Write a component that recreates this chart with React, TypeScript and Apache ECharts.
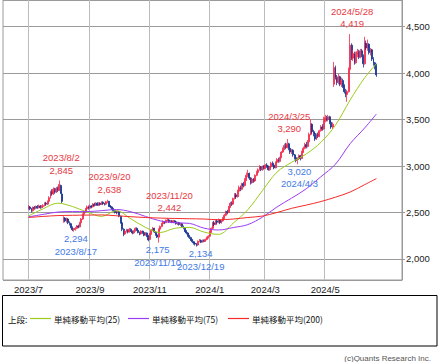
import React, { useEffect, useRef } from 'react';
import * as echarts from 'echarts';

// ---------- axis / calendar ----------
const axisStart = [2023, 6, 8];
const axisEnd = [2024, 7, 17];
const holidays = ['2023/7/17', '2023/8/11', '2023/9/18', '2023/10/9', '2023/11/3', '2023/11/23',
  '2024/1/1', '2024/1/2', '2024/1/3', '2024/1/8', '2024/2/12', '2024/2/23', '2024/3/20',
  '2024/4/29', '2024/5/3', '2024/5/6', '2024/7/15'];
const firstDataDay = '2023/7/3';
const monthLabels = ['2023/7', '2023/9', '2023/11', '2024/1', '2024/3', '2024/5'];

// ---------- daily candles [open, close, low, high] ----------
const jul2023 = [
  [2550, 2560, 2530, 2580], [2560, 2540, 2525, 2570], [2540, 2520, 2500, 2550], [2520, 2555, 2510, 2565], [2555, 2545, 2530, 2570],
  [2545, 2565, 2535, 2575], [2565, 2550, 2540, 2580], [2550, 2570, 2545, 2585], [2570, 2555, 2540, 2580], [2555, 2565, 2545, 2580],
  [2565, 2575, 2550, 2590], [2575, 2600, 2565, 2610], [2600, 2590, 2575, 2615], [2590, 2620, 2580, 2630],
  [2620, 2660, 2610, 2675], [2660, 2720, 2650, 2735], [2720, 2700, 2680, 2750], [2700, 2750, 2690, 2770], [2750, 2720, 2700, 2765],
  [2720, 2760, 2710, 2775],
];
const aug2023 = [
  [2760, 2740, 2720, 2780], [2740, 2800, 2730, 2845], [2790, 2710, 2700, 2800], [2700, 2620, 2600, 2715],
  [2420, 2440, 2390, 2460], [2440, 2410, 2395, 2450], [2410, 2430, 2390, 2445], [2430, 2390, 2375, 2440],
  [2390, 2380, 2360, 2405], [2380, 2340, 2330, 2390], [2340, 2315, 2300, 2350], [2315, 2320, 2294, 2335], [2320, 2330, 2305, 2345],
  [2330, 2355, 2320, 2365], [2355, 2345, 2330, 2370], [2345, 2390, 2340, 2400], [2390, 2430, 2380, 2440], [2430, 2480, 2420, 2490],
  [2480, 2510, 2470, 2520], [2510, 2540, 2500, 2550], [2540, 2560, 2525, 2575], [2560, 2545, 2530, 2575],
];
const sep2023 = [
  [2545, 2570, 2540, 2585],
  [2570, 2560, 2545, 2580], [2560, 2590, 2555, 2600], [2590, 2575, 2565, 2605], [2575, 2600, 2570, 2610], [2600, 2580, 2570, 2610],
  [2580, 2600, 2570, 2610], [2600, 2585, 2575, 2610], [2585, 2610, 2580, 2620], [2610, 2595, 2585, 2620], [2595, 2590, 2575, 2605],
  [2590, 2615, 2585, 2625], [2610, 2620, 2600, 2638], [2620, 2570, 2560, 2625], [2570, 2560, 2545, 2580],
  [2560, 2540, 2530, 2570], [2540, 2520, 2505, 2550], [2520, 2505, 2490, 2530], [2505, 2500, 2480, 2515], [2500, 2510, 2490, 2520],
];
const oct2023 = [
  [2510, 2460, 2450, 2515], [2460, 2390, 2380, 2465], [2390, 2320, 2300, 2395], [2320, 2270, 2245, 2330], [2270, 2300, 2260, 2310],
  [2300, 2310, 2285, 2325], [2310, 2290, 2275, 2320], [2290, 2320, 2285, 2335], [2320, 2300, 2290, 2330],
  [2300, 2280, 2265, 2305], [2280, 2300, 2270, 2310], [2300, 2330, 2295, 2340], [2330, 2310, 2300, 2340], [2310, 2285, 2275, 2315],
  [2285, 2270, 2255, 2295], [2270, 2300, 2265, 2310], [2300, 2285, 2270, 2305], [2285, 2255, 2245, 2290], [2255, 2280, 2250, 2290],
  [2280, 2250, 2235, 2285], [2250, 2205, 2190, 2260],
];
const nov2023 = [
  [2210, 2270, 2205, 2280], [2270, 2310, 2260, 2320],
  [2310, 2330, 2300, 2345], [2330, 2290, 2280, 2335], [2290, 2260, 2250, 2300], [2260, 2235, 2225, 2270], [2235, 2320, 2175, 2330],
  [2320, 2350, 2310, 2360], [2350, 2380, 2340, 2390], [2380, 2400, 2370, 2415], [2400, 2390, 2375, 2410], [2390, 2410, 2385, 2425],
  [2410, 2420, 2400, 2442], [2420, 2400, 2390, 2430], [2400, 2410, 2390, 2420], [2410, 2395, 2385, 2420],
  [2395, 2410, 2385, 2420], [2410, 2400, 2390, 2420], [2400, 2380, 2370, 2410], [2380, 2390, 2365, 2400],
];
const dec2023 = [
  [2390, 2370, 2360, 2400],
  [2370, 2380, 2355, 2390], [2380, 2350, 2340, 2385], [2350, 2330, 2320, 2360], [2330, 2300, 2290, 2340], [2300, 2280, 2265, 2310],
  [2280, 2250, 2240, 2290], [2250, 2230, 2215, 2260], [2230, 2205, 2195, 2240], [2205, 2185, 2170, 2215], [2185, 2170, 2155, 2195],
  [2170, 2160, 2145, 2180], [2160, 2150, 2134, 2170], [2150, 2190, 2145, 2200], [2190, 2200, 2180, 2215], [2200, 2180, 2170, 2210],
  [2180, 2200, 2175, 2210], [2200, 2190, 2180, 2210], [2190, 2210, 2185, 2220], [2210, 2230, 2200, 2240], [2230, 2245, 2220, 2255],
];
const jan2024 = [
  [2245, 2290, 2235, 2300], [2290, 2330, 2280, 2340],
  [2330, 2390, 2320, 2400], [2390, 2370, 2355, 2410], [2370, 2410, 2365, 2420], [2410, 2395, 2380, 2430],
  [2395, 2420, 2385, 2435], [2420, 2390, 2375, 2430], [2390, 2410, 2380, 2420], [2410, 2440, 2400, 2450], [2440, 2470, 2430, 2485],
  [2470, 2510, 2460, 2520], [2510, 2500, 2480, 2530], [2500, 2560, 2495, 2570], [2560, 2600, 2550, 2615], [2600, 2590, 2570, 2620],
  [2590, 2650, 2585, 2660], [2650, 2690, 2640, 2710], [2690, 2670, 2650, 2710],
];
const feb2024 = [
  [2670, 2730, 2660, 2745], [2730, 2770, 2720, 2790],
  [2770, 2750, 2730, 2790], [2750, 2810, 2740, 2820], [2810, 2790, 2770, 2830], [2790, 2850, 2780, 2870], [2850, 2900, 2840, 2930],
  [2900, 2920, 2880, 2960], [2920, 2870, 2850, 2930], [2870, 2820, 2800, 2880], [2820, 2860, 2810, 2875],
  [2860, 2840, 2820, 2870], [2840, 2900, 2830, 2910], [2900, 2930, 2890, 2950], [2930, 2960, 2920, 2975],
  [2960, 2990, 2950, 3010], [2990, 2960, 2945, 3000], [2960, 2995, 2950, 3005], [2995, 2975, 2960, 3010],
];
const mar2024 = [
  [2975, 3010, 2965, 3020],
  [3010, 2995, 2980, 3030], [2995, 2960, 2950, 3005], [2960, 2990, 2950, 3000], [2990, 3030, 2980, 3045], [3030, 3010, 2995, 3050],
  [3010, 2980, 2965, 3020], [2980, 3040, 2975, 3050], [3040, 3070, 3030, 3085], [3070, 3050, 3035, 3090], [3050, 3090, 3040, 3100],
  [3090, 3150, 3085, 3160], [3150, 3180, 3140, 3200], [3180, 3220, 3170, 3240], [3220, 3200, 3180, 3250],
  [3200, 3240, 3190, 3290], [3240, 3190, 3170, 3250], [3190, 3150, 3130, 3200], [3150, 3170, 3130, 3185], [3170, 3120, 3100, 3180],
];
const apr2024 = [
  [3120, 3090, 3070, 3130], [3090, 3060, 3040, 3100], [3060, 3080, 3020, 3095], [3080, 3110, 3065, 3125], [3110, 3080, 3060, 3120],
  [3080, 3150, 3075, 3165], [3150, 3190, 3140, 3210], [3190, 3230, 3180, 3250], [3230, 3210, 3190, 3260], [3210, 3260, 3200, 3280],
  [3260, 3340, 3250, 3360], [3340, 3450, 3330, 3500], [3450, 3370, 3350, 3460], [3370, 3350, 3320, 3390], [3350, 3290, 3270, 3360],
  [3290, 3340, 3280, 3350], [3340, 3320, 3300, 3360], [3320, 3380, 3310, 3390], [3380, 3420, 3370, 3440], [3420, 3400, 3380, 3450],
  [3400, 3490, 3390, 3530],
];
const may2024 = [
  [3490, 3520, 3470, 3550], [3520, 3500, 3480, 3540],
  [3500, 3530, 3480, 3550], [3530, 3470, 3450, 3540], [3470, 3420, 3400, 3490], [3420, 3450, 3400, 3470],
  [3880, 4060, 3850, 4120], [4060, 3950, 3930, 4080], [3950, 3900, 3870, 3980], [3900, 3960, 3880, 3990], [3960, 3880, 3860, 3970],
  [3880, 3920, 3850, 3950], [3920, 3860, 3840, 3940], [3860, 3800, 3780, 3880], [3800, 3770, 3740, 3830], [3770, 3800, 3690, 3820],
  [3800, 4040, 3790, 4060], [4040, 4300, 4030, 4419], [4300, 4160, 4140, 4320], [4160, 4210, 4130, 4250], [4210, 4110, 4090, 4230],
];
const jun2024 = [
  [4110, 4200, 4100, 4230], [4200, 4230, 4170, 4260], [4230, 4170, 4150, 4250], [4170, 4240, 4160, 4260], [4240, 4190, 4170, 4260],
  [4190, 4100, 4060, 4200], [4100, 4320, 4090, 4390], [4320, 4270, 4250, 4350], [4270, 4310, 4240, 4360], [4310, 4220, 4200, 4320],
  [4220, 4250, 4190, 4270], [4250, 4150, 4130, 4260], [4150, 4110, 4080, 4170], [4110, 4080, 4040, 4120], [4080, 3980, 3960, 4100],
];

// ---------- moving averages (read at sample dates) ----------
const maDates = ['2023/7/3', '2023/7/18', '2023/8/1', '2023/8/16', '2023/8/30', '2023/9/13', '2023/9/28', '2023/10/13',
  '2023/10/27', '2023/11/13', '2023/11/28', '2023/12/12', '2023/12/26', '2024/1/15', '2024/1/29', '2024/2/13', '2024/2/28',
  '2024/3/13', '2024/3/28', '2024/4/11', '2024/4/25', '2024/5/14', '2024/5/28', '2024/6/11', '2024/6/21'];
const ma25 = [2463, 2540, 2600, 2565, 2505, 2458, 2520, 2432, 2340, 2285, 2330, 2340, 2290, 2265, 2385, 2530, 2735, 2935, 3040, 3130, 3255, 3440, 3710, 3950, 4100];
const ma75 = [2453, 2480, 2505, 2510, 2510, 2520, 2532, 2508, 2458, 2410, 2390, 2383, 2332, 2312, 2338, 2370, 2450, 2560, 2655, 2755, 2885, 3020, 3240, 3410, 3560];
const ma200 = [2447, 2458, 2467, 2470, 2472, 2474, 2465, 2455, 2446, 2440, 2436, 2433, 2430, 2422, 2430, 2446, 2462, 2500, 2545, 2580, 2618, 2665, 2720, 2800, 2865];
const maNames = ['単純移動平均(25)', '単純移動平均(75)', '単純移動平均(200)'];
const maColors = ['#9ccc1c', '#9b3cf5', '#f52a2a'];

// ---------- annotations ----------
const highDates = ['2023/8/2', '2023/9/20', '2023/11/20', '2024/3/25', '2024/5/28'];
const highValues = [2845, 2638, 2442, 3290, 4419];
const lowDates = ['2023/8/17', '2023/11/10', '2023/12/19', '2024/4/3'];
const lowValues = [2294, 2175, 2134, 3020];

const RED = '#e8383f';
const BLUE = '#3f7be6';
const UP = '#f5284a';
const DOWN = '#13308f';
const NUM_FONT = "'Liberation Sans', Arial, sans-serif";
const CJK_FONT = "'Noto Sans CJK JP', 'Noto Sans', sans-serif";
const NUM_SIZE = 9.5;

const fmt = (v: number) => v.toLocaleString('en-US');
const key = (d: Date) => `${d.getFullYear()}/${d.getMonth() + 1}/${d.getDate()}`;

function buildCategories(): string[] {
  const hol = new Set(holidays);
  const out: string[] = [];
  const d = new Date(axisStart[0], axisStart[1] - 1, axisStart[2]);
  const end = new Date(axisEnd[0], axisEnd[1] - 1, axisEnd[2]);
  while (d <= end) {
    const wd = d.getDay();
    const k = key(d);
    if (wd !== 0 && wd !== 6 && !hol.has(k)) out.push(k);
    d.setDate(d.getDate() + 1);
  }
  return out;
}

export default function App() {
  const ref = useRef<HTMLDivElement>(null);
  useEffect(() => {
    if (!ref.current) return;
    const chart = echarts.init(ref.current, undefined, { renderer: 'svg' });
    const categories = buildCategories();
    const idxOf = new Map<string, number>();
    categories.forEach((c, i) => idxOf.set(c, i));
    const ym = (c: string) => c.split('/').slice(0, 2).join('/');

    const labelIdx = new Set<number>();
    categories.forEach((c, i) => {
      if (monthLabels.includes(ym(c)) && (i === 0 || ym(categories[i - 1]) !== ym(c))) labelIdx.add(i);
    });

    const all = [...jul2023, ...aug2023, ...sep2023, ...oct2023, ...nov2023, ...dec2023,
      ...jan2024, ...feb2024, ...mar2024, ...apr2024, ...may2024, ...jun2024];
    const start = idxOf.get(firstDataDay)!;
    const candleData = categories.map((_, i) => {
      const r = all[i - start];
      return r ? r : ['-', '-', '-', '-'];
    });

    const maSeries = [ma25, ma75, ma200].map((vals, k) => {
      const arr: (number | null)[] = categories.map(() => null);
      maDates.forEach((d, j) => { arr[idxOf.get(d)!] = vals[j]; });
      return {
        type: 'line', name: maNames[k], data: arr, connectNulls: true, showSymbol: false, symbol: 'none',
        smooth: 0.35, lineStyle: { color: maColors[k], width: 1 }, silent: true, z: 3,
      };
    });

    const lowOffsets: Record<string, number> = { '2023/11/10': -1, '2023/12/19': 4 };
    const markData: any[] = [];
    highDates.forEach((d, j) => markData.push({
      coord: [idxOf.get(d), highValues[j]],
      label: { position: 'top', distance: 4, offset: [2, 0], color: RED, formatter: `${d}\n${fmt(highValues[j])}` },
    }));
    lowDates.forEach((d, j) => markData.push({
      coord: [idxOf.get(d), lowValues[j]],
      label: { position: 'bottom', distance: 1, offset: [lowOffsets[d] ?? 2, 0], color: BLUE, formatter: `${fmt(lowValues[j])}\n${d}` },
    }));

    const legendY = 318.5;
    const legendX = [30, 128, 228];
    const graphics: any[] = [
      { type: 'rect', shape: { x: 2.5, y: 295.5, width: 434.5, height: 50.5 }, style: { fill: '#fff', stroke: '#000', lineWidth: 1 }, z: 0 },
      { type: 'text', x: 8, y: legendY, style: { text: '上段:', font: `8.5px ${CJK_FONT}`, fill: '#111', verticalAlign: 'middle', textVerticalAlign: 'middle' } },
      { type: 'text', x: 431, y: 358, style: { text: '(c)Quants Research Inc.', font: `8px ${NUM_FONT}`, fill: '#555', align: 'right', textAlign: 'right', verticalAlign: 'middle', textVerticalAlign: 'middle' } },
    ];
    legendX.forEach((x, k) => {
      graphics.push({ type: 'line', shape: { x1: x, y1: legendY, x2: x + 21, y2: legendY }, style: { stroke: maColors[k], lineWidth: 1.2 } });
      graphics.push({ type: 'text', x: x + 24, y: legendY, style: { text: maNames[k], font: `8.5px ${CJK_FONT}`, fill: '#111', verticalAlign: 'middle', textVerticalAlign: 'middle' } });
    });

    chart.setOption({
      animation: false,
      backgroundColor: '#fff',
      grid: { left: 3, right: 37, top: 0, bottom: 82, show: true, borderColor: '#9a9a9a', borderWidth: 1 },
      xAxis: {
        type: 'category', data: categories, boundaryGap: true,
        axisLine: { show: false }, axisTick: { show: false },
        axisLabel: {
          interval: (i: number) => labelIdx.has(i), formatter: (v: string) => ym(v),
          margin: 4, fontSize: NUM_SIZE, color: '#222', fontFamily: NUM_FONT,
        },
        splitLine: { show: true, interval: (i: number) => labelIdx.has(i), lineStyle: { color: '#bcbcbc', width: 1 } },
      },
      yAxis: {
        type: 'value', position: 'right', min: 1774, max: 4786, splitNumber: 6, minInterval: 500, maxInterval: 500,
        axisLine: { show: true, lineStyle: { color: '#9a9a9a' } },
        axisTick: { show: true, length: 3, lineStyle: { color: '#9a9a9a' } },
        axisLabel: { showMinLabel: false, showMaxLabel: false, margin: 4, fontSize: NUM_SIZE, color: '#222', fontFamily: NUM_FONT, formatter: (v: number) => fmt(v) },
        splitLine: { show: true, lineStyle: { color: '#9a9a9a', width: 1 } },
      },
      series: [
        {
          type: 'candlestick', data: candleData, barWidth: '95%', z: 2,
          itemStyle: { color: UP, color0: DOWN, borderColor: UP, borderColor0: DOWN, borderWidth: 0.8 },
          markPoint: {
            symbol: 'circle', symbolSize: 0, silent: true, data: markData,
            label: { show: true, fontSize: NUM_SIZE, lineHeight: 12.5, fontFamily: NUM_FONT, align: 'center' },
          },
        },
        ...maSeries,
      ],
      graphic: graphics,
    } as any);
    return () => chart.dispose();
  }, []);
  return <div ref={ref} style={{ position: 'absolute', left: 0, top: 0, width: 439, height: 362, background: '#fff' }} />;
}
